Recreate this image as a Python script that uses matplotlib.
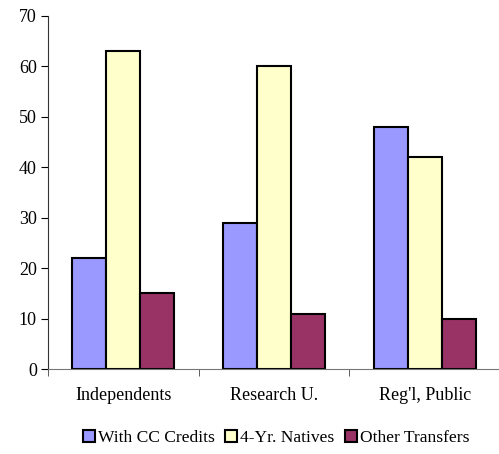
import numpy as np
import matplotlib.pyplot as plt

plt.rcParams['font.family'] = ['Liberation Serif', 'DejaVu Serif']

categories = ['Independents', 'Research U.', "Reg'l, Public"]
series_names = ['With CC Credits', '4-Yr. Natives', 'Other Transfers']
cc_credits = [22, 29, 48]
natives = [63, 60, 42]
other_transfers = [15, 11, 10]
colors = ['#9999FF', '#FFFFCC', '#993366']

fig = plt.figure(figsize=(4.99, 4.54), dpi=100)
ax = fig.add_axes([0.096, 0.187, 0.906, 0.778])

x = np.arange(len(categories))
w = 0.225
for i, (vals, name, c) in enumerate(zip([cc_credits, natives, other_transfers], series_names, colors)):
    ax.bar(x + (i - 1) * w, vals, w, color=c, edgecolor='black', linewidth=1.5, label=name)

ax.set_xlim(-0.5, 2.5)
ax.set_ylim(0, 70)
ax.set_yticks(range(0, 71, 10))
ax.set_xticks(x)
ax.set_xticklabels(categories, fontsize=13)
ax.set_xticks([-0.5, 0.5, 1.5, 2.5], minor=True)
ax.tick_params(axis='x', which='major', length=0, pad=13)
ax.tick_params(axis='x', which='minor', length=5, color='#444444')
ax.tick_params(axis='y', labelsize=13, length=5, direction='out', pad=3)

for s in ['top', 'right']:
    ax.spines[s].set_visible(False)
ax.spines['bottom'].set_color('#777777')
ax.spines['left'].set_color('#333333')

fig.legend(loc='center', bbox_to_anchor=(0.553, 0.035), ncol=3, frameon=False,
           fontsize=12.6, handlelength=0.7, handleheight=0.7, handletextpad=0.15,
           columnspacing=0.6)

fig.savefig('out.png', dpi=100)
